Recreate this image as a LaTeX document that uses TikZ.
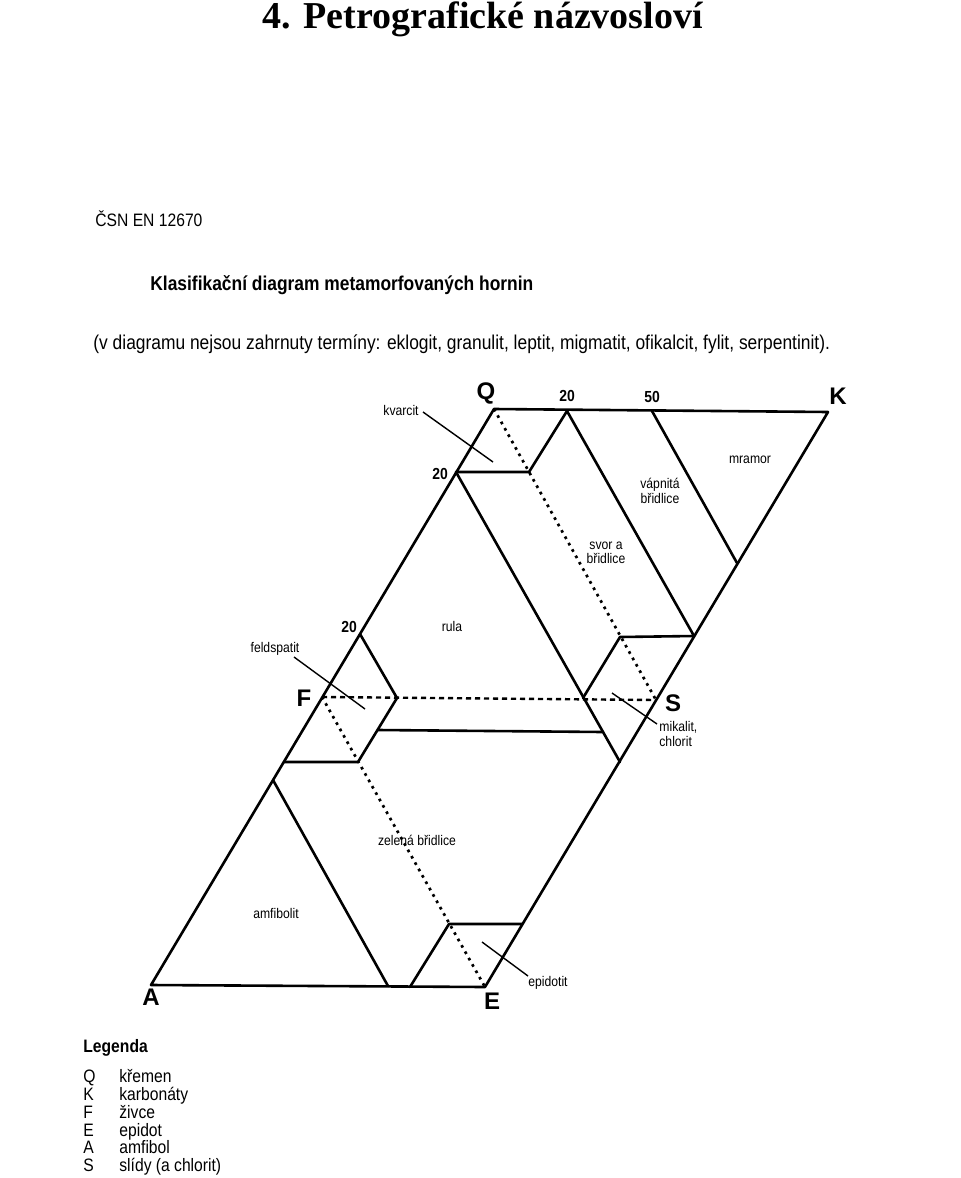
\documentclass[tikz,border=0pt]{standalone}
\usepackage{fontspec}
\setmainfont{Liberation Serif}
\newfontfamily\hv[FakeStretch=0.87]{Liberation Sans}
\newfontfamily\hvw{Liberation Sans}
\begin{document}
\begin{tikzpicture}[x=0.5pt,y=-0.5pt]
\tikzset{
 edge/.style={line width=1.3pt, line cap=round, line join=round},
 dotline/.style={line width=1.35pt, dash pattern=on 1.35pt off 2.3pt},
 dashline/.style={line width=1.2pt, dash pattern=on 2.6pt off 1.9pt},
 leader/.style={line width=0.7pt},
 vlabel/.style={font=\hvw\bfseries\fontsize{12}{12}\selectfont, inner sep=0pt},
 num/.style={font=\hv\bfseries\fontsize{8}{8}\selectfont, inner sep=0pt},
 rock/.style={font=\hv\fontsize{7}{7.2}\selectfont, inner sep=0pt, align=center},
 head/.style={anchor=base west, inner sep=0pt},
 legl/.style={anchor=base west, inner sep=0pt, font=\hv\fontsize{9}{9}\selectfont},
}
\fill[white] (0,0) rectangle (960,1178);
\useasboundingbox (0,0) rectangle (960,1178);

% header
\node[head, font=\bfseries\fontsize{19}{19}\selectfont] (title) at (262,28) {4. Petrografické názvosloví};
\node[head, font=\hv\fontsize{9}{9}\selectfont] (csn) at (95,226) {ČSN EN 12670};
\node[head, font=\hv\bfseries\fontsize{10}{10}\selectfont] (klas) at (150,290) {Klasifikační diagram metamorfovaných hornin};
\node[head, font=\hv\fontsize{10}{10}\selectfont] (note) at (93,349) {(v diagramu nejsou zahrnuty termíny: eklogit, granulit, leptit, migmatit, ofikalcit, fylit, serpentinit).};

% net vertices
\coordinate (Q) at (494,409);
\coordinate (K) at (828,412);
\coordinate (S) at (656,700);
\coordinate (F) at (322,697);
\coordinate (A) at (151,985);
\coordinate (E) at (485,987);
% boundary points
\coordinate (t20) at (567,411);
\coordinate (t50) at (652,411);
\coordinate (l20) at (456,472);
\coordinate (kv) at (529,472);
\coordinate (m20) at (360,634);
\coordinate (fs1) at (397,698);
\coordinate (fs2) at (358,762);
\coordinate (lb) at (284,762);
\coordinate (h1) at (378,730);
\coordinate (h2) at (603,732);
\coordinate (r1) at (583,698);
\coordinate (r2) at (620,762);
\coordinate (mk1) at (620,637);
\coordinate (mk2) at (694,636);
\coordinate (m50) at (737,563);
\coordinate (am1) at (273,780);
\coordinate (am2) at (388,986);
\coordinate (ep1) at (410,987);
\coordinate (ep2) at (449,924);
\coordinate (ep3) at (522,924);

% internal boundaries of the net
\draw[dotline] (Q) -- (S);
\draw[dotline] (F) -- (E);
\draw[dashline] (F) -- (S);

% field boundaries
\draw[edge] (Q) -- (K) -- (E) -- (A) -- cycle;
\draw[edge] (l20) -- (kv) -- (t20);
\draw[edge] (t20) -- (mk2);
\draw[edge] (t50) -- (m50);
\draw[edge] (l20) -- (r2);
\draw[edge] (r1) -- (mk1) -- (mk2);
\draw[edge] (m20) -- (fs1) -- (fs2) -- (lb);
\draw[edge] (h1) -- (h2);
\draw[edge] (am1) -- (am2);
\draw[edge] (ep1) -- (ep2) -- (ep3);

% vertex labels
\node[vlabel] (lQ) at (486,393) {Q};
\node[vlabel] (lK) at (838,396) {K};
\node[vlabel] (lF) at (304,698) {F};
\node[vlabel] (lS) at (673,703) {S};
\node[vlabel] (lA) at (151,997) {A};
\node[vlabel] (lE) at (492,1001) {E};

% numbers
\node[num] (n1) at (567,396) {20};
\node[num] (n2) at (652,397) {50};
\node[num] (n3) at (440,474) {20};
\node[num] (n4) at (349,627) {20};

% rock names
\node[rock] (kvarcit) at (401,410) {kvarcit};
\node[rock] (mramor) at (750,460) {mramor};
\node[rock] (vapnita) at (660,491) {vápnitá\\břidlice};
\node[rock] (svor) at (606,553) {svor a\\břidlice};
\node[rock] (rula) at (452,626) {rula};
\node[rock] (feld) at (275,649) {feldspatit};
\node[rock, align=left, anchor=west] (mika) at (659,734) {mikalit,\\chlorit};
\node[rock] (zel) at (417,840) {zelená břidlice};
\node[rock] (amf) at (276,913) {amfibolit};
\node[rock] (epi) at (548,983) {epidotit};

% leaders
\coordinate (kvA) at (423,412); \coordinate (kvB) at (493,462);
\coordinate (feA) at (294,657); \coordinate (feB) at (365,709);
\coordinate (miA) at (612,693); \coordinate (miB) at (657,724);
\coordinate (epA) at (482,942); \coordinate (epB) at (528,976);
\draw[leader] (kvA) -- (kvB);
\draw[leader] (feA) -- (feB);
\draw[leader] (miA) -- (miB);
\draw[leader] (epA) -- (epB);

% legend
\node[head, font=\hv\bfseries\fontsize{9}{9}\selectfont] (leg) at (83,1052) {Legenda};
\node[legl] (gQ) at (83,1082) {Q};  \node[legl] (tQ) at (119,1082) {křemen};
\node[legl] (gK) at (83,1100) {K};  \node[legl] (tK) at (119,1100) {karbonáty};
\node[legl] (gF) at (83,1118) {F};  \node[legl] (tF) at (119,1118) {živce};
\node[legl] (gE) at (83,1136) {E};  \node[legl] (tE) at (119,1136) {epidot};
\node[legl] (gA) at (83,1153) {A};  \node[legl] (tA) at (119,1153) {amfibol};
\node[legl] (gS) at (83,1171) {S};  \node[legl] (tS) at (119,1171) {slídy (a chlorit)};
\end{tikzpicture}
\end{document}
